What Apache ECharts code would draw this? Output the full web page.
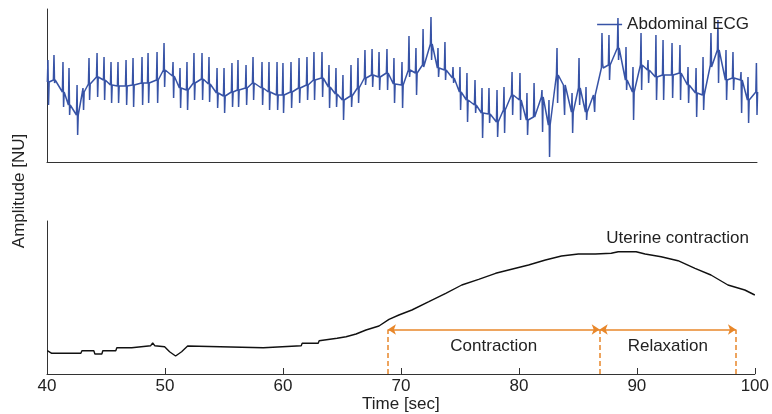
<!DOCTYPE html>
<html>
<head>
<meta charset="utf-8">
<script src="https://cdn.jsdelivr.net/npm/echarts@6.0.0/dist/echarts.min.js"></script>
<style>
html, body { margin: 0; padding: 0; background: #fff; }
#root { width: 772px; height: 414px; }
</style>
</head>
<body>
<div id="root"></div>
<script>
// abdominal ECG: one entry per heartbeat (time, baseline around it, spike top, spike bottom)
const beatTime = [
	40.08, 40.59, 41.35, 41.86, 42.54, 43.04, 43.55, 44.23, 44.82, 45.41,
	46.00, 46.68, 47.27, 48.03, 48.54, 49.30, 49.89, 50.65, 51.24, 51.83,
	52.42, 53.10, 53.69, 54.37, 54.96, 55.63, 56.14, 56.82, 57.41, 58.17,
	58.76, 59.44, 59.94, 60.62, 61.30, 61.97, 62.56, 63.24, 63.83, 64.42,
	65.01, 65.69, 66.28, 66.87, 67.47, 68.06, 68.73, 69.32, 70.00, 70.59,
	71.18, 71.78, 72.45, 73.04, 73.63, 74.31, 74.90, 75.49, 76.17, 76.76,
	77.35, 78.03, 78.62, 79.30, 79.97, 80.56, 81.16, 81.83, 82.42, 83.10,
	83.69, 84.37, 84.96, 85.55, 86.23, 86.90, 87.49, 88.25, 88.93, 89.52,
	90.20, 90.79, 91.46, 92.06, 92.82, 93.49, 94.17, 94.85, 95.44, 96.11,
	96.70, 97.38, 97.97, 98.65, 99.24, 99.95
]
const beatBase = [
	80, 82, 70, 57, 47, 70, 78, 85, 82, 77,
	76, 76, 77, 79, 79, 82, 92, 86, 74, 72,
	79, 83, 78, 69, 66, 70, 72, 74, 79, 74,
	70, 67, 67, 70, 74, 77, 82, 84, 75, 68,
	62, 66, 74, 84, 87, 85, 89, 78, 77, 92,
	89, 97, 118, 94, 92, 84, 70, 62, 57, 49,
	48, 40, 52, 67, 62, 42, 45, 65, 37, 87,
	77, 50, 74, 50, 67, 94, 97, 114, 82, 70,
	97, 92, 85, 87, 87, 89, 77, 69, 67, 97,
	112, 82, 84, 82, 62, 70
]
const beatHigh = [
	102, 107, 100, 94, 77, 74, 104, 109, 105, 100,
	100, 102, 104, 105, 109, 110, 119, 100, 94, 100,
	109, 109, 105, 94, 94, 99, 102, 97, 105, 100,
	100, 100, 99, 100, 104, 105, 110, 110, 97, 94,
	87, 97, 104, 112, 113, 110, 113, 104, 100, 126,
	114, 133, 145, 114, 120, 95, 95, 89, 82, 74,
	74, 72, 75, 90, 89, 69, 79, 72, 62, 114,
	77, 69, 104, 75, 67, 129, 127, 144, 115, 95,
	129, 102, 127, 122, 119, 117, 95, 94, 105, 129,
	142, 112, 110, 90, 85, 99
]
const beatLow = [
	57, 79, 55, 47, 27, 52, 62, 65, 62, 59,
	59, 57, 55, 57, 59, 59, 75, 64, 54, 52,
	62, 62, 60, 54, 49, 55, 55, 57, 62, 57,
	52, 52, 49, 54, 59, 62, 62, 65, 54, 55,
	42, 55, 59, 77, 75, 72, 72, 59, 54, 85,
	67, 95, 102, 85, 82, 79, 52, 40, 49, 24,
	39, 25, 29, 47, 42, 27, 45, 30, 5, 59,
	47, 29, 57, 42, 50, 99, 82, 102, 72, 42,
	72, 79, 62, 62, 64, 62, 59, 45, 52, 95,
	79, 62, 72, 49, 39, 47
]

// uterine contraction
const uterineTime = [
	40.03, 40.4, 42.87, 42.96, 43.97, 44.06, 44.65, 44.73, 45.83, 45.92,
	47.18, 47.27, 48.79, 48.96, 49.13, 49.97, 50.39, 50.9, 51.41, 51.92,
	52.08, 58.34, 58.42, 61.55, 61.63, 62.99, 63.07, 64.59, 65.35, 66.2,
	67.04, 68.14, 68.99, 69.83, 70.93, 72.37, 73.8, 75.16, 76.59, 78.03,
	79.38, 80.82, 82.25, 83.61, 85.04, 86.48, 87.83, 88.42, 89.94, 90.7,
	92.06, 93.49, 94.93, 96.28, 97.72, 99.15, 100
]
const uterineLevel = [
	23.3, 20.7, 20.7, 23.3, 23.3, 20, 20, 23.3, 23.3, 26.3,
	26.3, 28.3, 28.3, 31, 28.3, 27.3, 22.3, 18, 22.3, 28,
	26.3, 26.3, 28.3, 28.3, 30.7, 30.7, 33.3, 35.7, 37.3, 40,
	44, 48, 54.7, 59, 64, 72.3, 80.7, 89, 94.7, 100.7,
	104.7, 109, 114, 118, 120, 120, 120.7, 122.3, 122.3, 120,
	117.3, 113.3, 105.7, 99, 89, 84, 79
]

const phaseBounds = [68.9, 86.85, 98.4]
const phaseNames = ['Contraction', 'Relaxation']
const phaseLevel = 44.5

const FONT = "'Liberation Sans', Arial, sans-serif"
const AXIS_COLOR = '#333'
const TEXT_COLOR = '#222'
const ORANGE = '#e8872a'

const ecgData = []
beatTime.forEach((t, i) => {
	ecgData.push([t - 0.05, beatBase[i]], [t, beatHigh[i]], [t + 0.05, beatLow[i]], [t + 0.1, beatBase[i]])
})
const uterineData = uterineTime.map((t, i) => [t, uterineLevel[i]])

const markData = []
phaseBounds.forEach(t => {
	markData.push([
		{ coord: [t, 0], symbol: 'none', label: { show: false }, lineStyle: { type: [5, 3] } },
		{ coord: [t, phaseLevel], symbol: 'none' }
	])
})
phaseNames.forEach((name, i) => {
	markData.push([
		{ name, coord: [phaseBounds[i], phaseLevel], symbol: 'arrow' },
		{ coord: [phaseBounds[i + 1], phaseLevel], symbol: 'arrow' }
	])
})

const plainX = (gridIndex) => ({
	type: 'value', gridIndex, min: 40, max: 100,
	axisLine: { lineStyle: { color: AXIS_COLOR, width: 1 } },
	axisTick: { show: false }, axisLabel: { show: false }, splitLine: { show: false }
})
const plainY = (gridIndex) => ({
	type: 'value', gridIndex, min: 0, max: 153,
	axisLine: { show: true, lineStyle: { color: AXIS_COLOR, width: 1 } },
	axisTick: { show: false }, axisLabel: { show: false }, splitLine: { show: false }
})

const timeAxis = plainX(1)
timeAxis.interval = 10
timeAxis.axisTick = { show: true, inside: true, length: 6, lineStyle: { color: AXIS_COLOR } }
timeAxis.axisLabel = { show: true, fontSize: 17, color: TEXT_COLOR, margin: 4, fontFamily: FONT }
timeAxis.name = 'Time [sec]'
timeAxis.nameLocation = 'middle'
timeAxis.nameGap = 21
timeAxis.nameTextStyle = { fontSize: 17, color: TEXT_COLOR, fontFamily: FONT }

const chart = echarts.init(document.getElementById('root'), null, { renderer: 'canvas' })
chart.setOption({
	animation: false,
	backgroundColor: '#fff',
	textStyle: { fontFamily: FONT },
	grid: [
		{ left: 47, right: 15, top: 9, height: 153 },
		{ left: 47, right: 15, top: 221, height: 153 }
	],
	xAxis: [plainX(0), timeAxis],
	yAxis: [plainY(0), plainY(1)],
	legend: [
		{
			data: ['Abdominal ECG'], right: 23, top: 16, padding: 0,
			icon: 'rect', itemWidth: 25, itemHeight: 1.5,
			textStyle: { fontSize: 17, color: TEXT_COLOR, fontFamily: FONT }
		},
		{
			data: [{ name: 'Uterine contraction', icon: 'none' }], right: 23, top: 230, padding: 0,
			itemWidth: 0, itemHeight: 1,
			textStyle: { fontSize: 17, color: TEXT_COLOR, fontFamily: FONT }
		}
	],
	graphic: [{
		type: 'text', x: 19, y: 191, rotation: Math.PI / 2,
		style: { text: 'Amplitude [NU]', textAlign: 'center', textVerticalAlign: 'middle', font: '17px ' + FONT, fill: TEXT_COLOR }
	}],
	series: [
		{
			name: 'Abdominal ECG', type: 'line', xAxisIndex: 0, yAxisIndex: 0,
			data: ecgData, showSymbol: false, symbol: 'none',
			lineStyle: { color: '#3753a6', width: 1.5 }, itemStyle: { color: '#3753a6' }
		},
		{
			name: 'Uterine contraction', type: 'line', xAxisIndex: 1, yAxisIndex: 1,
			data: uterineData, showSymbol: false, symbol: 'none',
			lineStyle: { color: '#111', width: 1.4 }, itemStyle: { color: '#111' },
			markLine: {
				silent: true, animation: false, symbolSize: 8,
				lineStyle: { color: ORANGE, width: 1.5, type: 'solid' },
				label: {
					show: true, position: 'insideMiddleBottom', distance: 8,
					formatter: p => p.name, fontSize: 17, color: TEXT_COLOR, fontFamily: FONT
				},
				emphasis: { disabled: true },
				data: markData
			}
		}
	]
})
</script>
</body>
</html>
